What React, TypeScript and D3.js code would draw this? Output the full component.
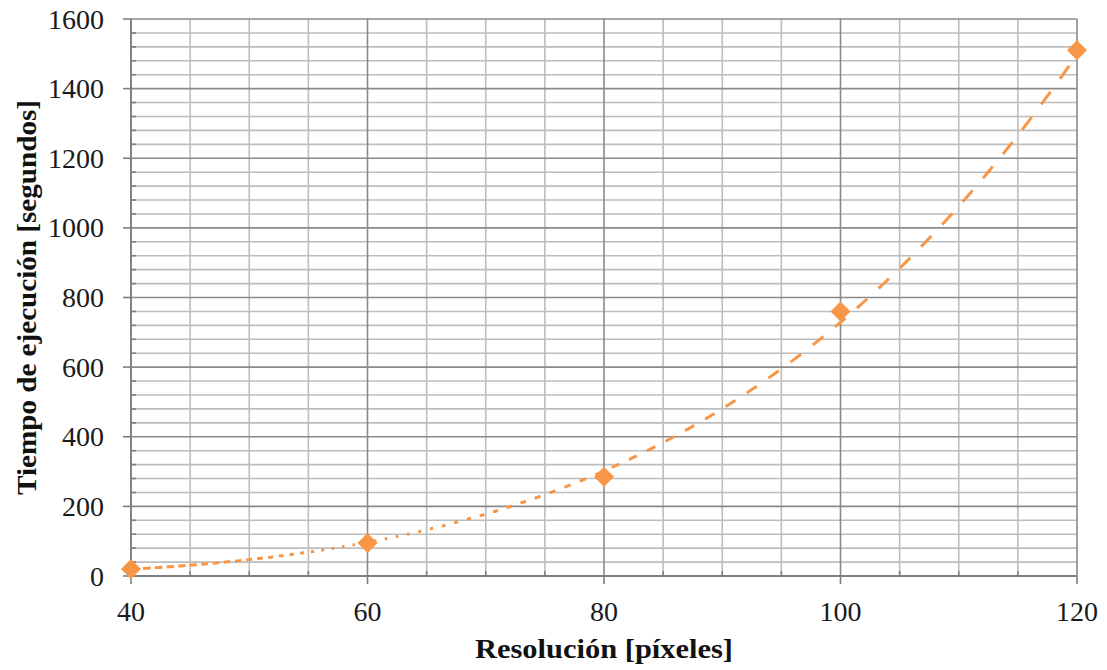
import React from "react";
import * as d3 from "d3";

const resolution = [40, 60, 80, 100, 120];
const seconds = [20, 95, 285, 760, 1510];
const xTicks = [40, 60, 80, 100, 120];
const yTicks = [0, 200, 400, 600, 800, 1000, 1200, 1400, 1600];
const xTitle = "Resolución [píxeles]";
const yTitle = "Tiempo de ejecución [segundos]";

const W = 1107;
const H = 670;
const M = { left: 131, right: 1077, top: 19, bottom: 576 };
const ORANGE = "#F79646";

export default function App() {
  const x = d3.scaleLinear().domain([40, 120]).range([M.left, M.right]);
  const y = d3.scaleLinear().domain([0, 1600]).range([M.bottom, M.top]);

  // power trendline (least squares in log-log space), as in the spreadsheet
  const lx = resolution.map((v) => Math.log(v));
  const ly = seconds.map((v) => Math.log(v));
  const mx = d3.mean(lx)!;
  const my = d3.mean(ly)!;
  const b = d3.sum(lx.map((v, i) => (v - mx) * (ly[i] - my))) / d3.sum(lx.map((v) => (v - mx) ** 2));
  const a = Math.exp(my - b * mx);
  const fit = (v: number) => a * Math.pow(v, b);

  const samples = d3.range(0, 401).map((i) => 40 + (80 * i) / 400);
  const pts: [number, number][] = samples.map((v) => [x(fit(v)) , 0]).map((_, i) => [x(samples[i]), y(fit(samples[i]))]);
  const linePath = d3.line()(pts) || "";

  // progressive dash pattern along the curve
  const cum: number[] = [0];
  for (let i = 1; i < pts.length; i++) {
    cum.push(cum[i - 1] + Math.hypot(pts[i][0] - pts[i - 1][0], pts[i][1] - pts[i - 1][1]));
  }
  const total = cum[cum.length - 1];
  const dashX = [40, 50, 57, 63, 70, 78, 85, 95, 110, 120];
  const dashOn = [8, 6, 2.5, 2.5, 5, 7, 10, 13, 15, 16];
  const dashOff = [4, 5, 8, 9, 9, 10, 12, 15, 16, 16];
  const onS = d3.scaleLinear().domain(dashX).range(dashOn).clamp(true);
  const offS = d3.scaleLinear().domain(dashX).range(dashOff).clamp(true);
  const xAtLen = d3.scaleLinear().domain(cum).range(samples).clamp(true);
  const dashes: number[] = [];
  let pos = 0;
  while (pos < total) {
    const xv = xAtLen(pos);
    const on = onS(xv);
    const off = offS(xv);
    dashes.push(+on.toFixed(2), +off.toFixed(2));
    pos += on + off;
  }

  const minorY = d3.range(0, 1601, 40).filter((v) => v % 200 !== 0);
  const minorX = d3.range(40, 121, 5).filter((v) => v % 20 !== 0);
  const diamond = d3.symbol(d3.symbolSquare, 200)() || "";

  const minorColor = "#bdbdbd";
  const majorColor = "#8a8a8a";
  const tickColor = "#7f7f7f";

  return (
    <svg width={W} height={H} style={{ position: "absolute", left: 0, top: 0, background: "#fff" }}>
      {/* minor horizontal grid */}
      {minorY.map((v) => (
        <line key={"mh" + v} x1={M.left} x2={M.right} y1={y(v)} y2={y(v)} stroke={minorColor} strokeWidth={1.6} />
      ))}
      {/* minor vertical grid */}
      {minorX.map((v) => (
        <line key={"mv" + v} x1={x(v)} x2={x(v)} y1={M.top} y2={M.bottom} stroke={minorColor} strokeWidth={1.6} />
      ))}
      {/* major horizontal grid */}
      {yTicks.map((v) => (
        <line key={"Mh" + v} x1={M.left} x2={M.right} y1={y(v)} y2={y(v)} stroke={majorColor} strokeWidth={1.6} />
      ))}
      {/* major vertical grid */}
      {xTicks.map((v) => (
        <line key={"Mv" + v} x1={x(v)} x2={x(v)} y1={M.top} y2={M.bottom} stroke={majorColor} strokeWidth={1.6} />
      ))}
      {/* axes */}
      <line x1={M.left} x2={M.left} y1={M.top} y2={M.bottom} stroke={tickColor} strokeWidth={1.8} />
      <line x1={M.left} x2={M.right} y1={M.bottom} y2={M.bottom} stroke={tickColor} strokeWidth={1.8} />
      {/* y ticks */}
      {yTicks.map((v) => (
        <line key={"yt" + v} x1={M.left - 8} x2={M.left} y1={y(v)} y2={y(v)} stroke={tickColor} strokeWidth={1.6} />
      ))}
      {minorY.map((v) => (
        <line key={"ymt" + v} x1={M.left} x2={M.left + 5} y1={y(v)} y2={y(v)} stroke={tickColor} strokeWidth={1.6} />
      ))}
      {/* x ticks */}
      {xTicks.map((v) => (
        <line key={"xt" + v} x1={x(v)} x2={x(v)} y1={M.bottom} y2={M.bottom + 8} stroke={tickColor} strokeWidth={1.6} />
      ))}
      {minorX.map((v) => (
        <line key={"xmt" + v} x1={x(v)} x2={x(v)} y1={M.bottom - 5} y2={M.bottom} stroke={tickColor} strokeWidth={1.6} />
      ))}
      {/* tick labels */}
      {yTicks.map((v) => (
        <text key={"yl" + v} x={104} y={y(v) + 9.5} textAnchor="end" fontFamily="'Liberation Serif', serif" fontSize={28} fill="#1a1a1a">
          {v}
        </text>
      ))}
      {xTicks.map((v) => (
        <text key={"xl" + v} x={x(v)} y={621} textAnchor="middle" fontFamily="'Liberation Serif', serif" fontSize={28} fill="#1a1a1a">
          {v}
        </text>
      ))}
      {/* trendline */}
      <path d={linePath} fill="none" stroke={ORANGE} strokeWidth={3} strokeDasharray={dashes.join(" ")} />
      {/* markers */}
      {resolution.map((v, i) => (
        <path key={"pt" + v} d={diamond} transform={`translate(${x(v)},${y(seconds[i])}) rotate(45)`} fill={ORANGE} />
      ))}
      {/* axis titles */}
      <text x={(M.left + M.right) / 2} y={658} textAnchor="middle" fontFamily="'Liberation Serif', serif" fontWeight="bold" fontSize={27} textLength={258} lengthAdjust="spacingAndGlyphs" fill="#111">
        {xTitle}
      </text>
      <text transform={`translate(36,${(M.top + M.bottom) / 2}) rotate(-90)`} textAnchor="middle" fontFamily="'Liberation Serif', serif" fontWeight="bold" fontSize={27} textLength={395} lengthAdjust="spacingAndGlyphs" fill="#111">
        {yTitle}
      </text>
    </svg>
  );
}
